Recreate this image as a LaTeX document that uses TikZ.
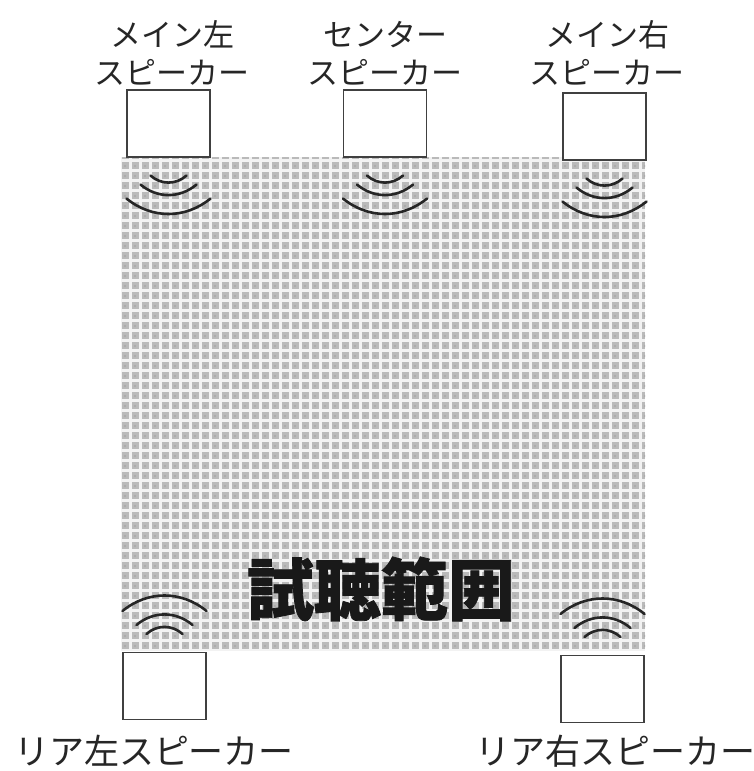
\documentclass[tikz,border=0pt]{standalone}
\usepackage{fontspec}
\newfontfamily\jp{Noto Sans CJK JP}
\newfontfamily\jpheavy[BoldFeatures={FakeBold=1.2}]{Noto Sans CJK JP}
\usetikzlibrary{patterns.meta}
\newcommand\spkwaves[3]{%
  \draw[wave] ([shift={(-18,#2*18)}]#1) to[#3=42] ([shift={(18,#2*18)}]#1);
  \draw[wave] ([shift={(-28,#2*27)}]#1) to[#3=40] ([shift={(28,#2*27)}]#1);
  \draw[wave] ([shift={(-42,#2*41)}]#1) to[#3=39] ([shift={(42,#2*41)}]#1);
}
\begin{document}
\begin{tikzpicture}[x=1pt,y=-1pt,
  spk/.style={draw=black!75, line width=1.1pt, fill=white, minimum width=83pt, minimum height=67pt, inner sep=0pt},
  lbl/.style={font=\jp\fontsize{31}{38}\selectfont, align=center, text=black!85, inner sep=0pt},
  rlbl/.style={font=\jp\fontsize{35}{40}\selectfont, text=black!85, inner sep=0pt},
  wave/.style={line width=2.6pt, black!85, line cap=round},
  area/.style={fill=black!27}]
\useasboundingbox (0,0) rectangle (754,771);
\fill[white] (0,0) rectangle (754,771);
% listening area texture
\path[area] (121,157) rectangle (645,650);
\path[pattern={Hatch[angle=0,distance=10pt,line width=3pt]},pattern color=black!5] (121,157) rectangle (645,650);
\path[pattern={Dots[distance=10pt,radius=1.2pt,xshift=5pt,yshift=5pt]},pattern color=black!35] (121,157) rectangle (645,650);
% speakers
\node[spk] (ml) at (168.5,123.5) {};
\node[spk] (c)  at (385,123.5) {};
\node[spk] (mr) at (604.5,126.5) {};
\node[spk] (rl) at (164.5,686) {};
\node[spk] (rr) at (602.5,689) {};
% labels
\node[lbl] (mlt) at (172,53) {メイン左\\スピーカー};
\node[lbl] (ct)  at (385,53) {センター\\スピーカー};
\node[lbl] (mrt) at (607,53) {メイン右\\スピーカー};
\node[rlbl] (rlt) at (154,751) {リア左スピーカー};
\node[rlbl] (rrt) at (615,751) {リア右スピーカー};
% waves
\spkwaves{ml.south}{1}{bend right}
\spkwaves{c.south}{1}{bend right}
\spkwaves{mr.south}{1}{bend right}
\spkwaves{rl.north}{-1}{bend left}
\spkwaves{rr.north}{-1}{bend left}
% title
\node[font=\jpheavy\bfseries\fontsize{67}{67}\selectfont, text=black!90, inner sep=0pt] (title) at (381,589) {試聴範囲};
\end{tikzpicture}
\end{document}
